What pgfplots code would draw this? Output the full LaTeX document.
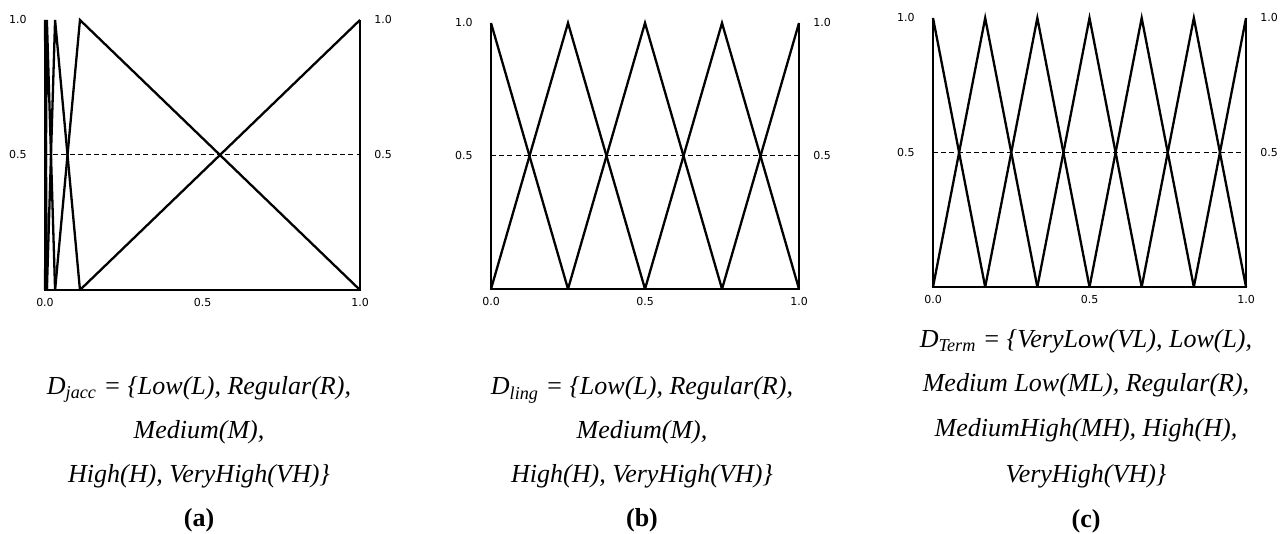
\documentclass[border=0pt]{standalone}
\usepackage{fontspec}
\setmainfont{Liberation Serif}
\newfontfamily\tickfont{DejaVu Sans}
\usepackage{pgfplots}
\pgfplotsset{compat=1.18}

\pgfplotsset{
  mf/.style={
    scale only axis,
    xmin=0, xmax=1, ymin=0, ymax=1,
    axis line style={draw=none},
    tick style={draw=none},
    xtick={0,0.5,1}, xticklabels={0.0,0.5,1.0},
    ytick={0.5,1}, yticklabels={0.5,1.0},
    tick label style={font=\tickfont\fontsize{5.5}{6.5}\selectfont},
    yticklabel style={anchor=east, inner sep=0pt, xshift=-9pt},
    xticklabel style={anchor=center, inner sep=0pt, yshift=-6.5pt},
    clip=false,
  },
  tri/.style={black, line width=1.15pt, mark=none},
  frame/.style={black, line width=0.75pt, mark=none},
  half/.style={black, line width=0.5pt, dash pattern=on 2.5pt off 1.6pt, mark=none},
}
\newcommand\rlab[1]{\node[anchor=west, inner sep=0pt, font=\tickfont\fontsize{5.5}{6.5}\selectfont] at (axis cs:1,#1) [xshift=7pt] {\ifdim#1pt=1pt 1.0\else 0.5\fi};}

\begin{document}
\begin{tikzpicture}
\path[use as bounding box] (0,0) rectangle (644pt,267pt);

% (a) D_jacc
\begin{axis}[mf, width=157.5pt, height=135pt, at={(22.5pt,122pt)}, anchor=south west]
\addplot[frame] coordinates {(0,1)(0,0)(1,0)(1,1)};
\addplot[half] coordinates {(0,0.5)(1,0.5)};
\addplot[tri] coordinates {(0,1)(0.006,0)};
\addplot[tri] coordinates {(0,0)(0.006,1)(0.032,0)};
\addplot[tri] coordinates {(0.006,0)(0.032,1)(0.111,0)};
\addplot[tri] coordinates {(0.032,0)(0.111,1)(1,0)};
\addplot[tri] coordinates {(0.111,0)(1,1)};
\rlab{1}\rlab{0.5}
\end{axis}

% (b) D_ling
\begin{axis}[mf, width=154pt, height=133pt, at={(245.5pt,122.5pt)}, anchor=south west]
\addplot[frame] coordinates {(0,1)(0,0)(1,0)(1,1)};
\addplot[half] coordinates {(0,0.5)(1,0.5)};
\addplot[tri] coordinates {(0,1)(0.25,0)};
\addplot[tri] coordinates {(0,0)(0.25,1)(0.5,0)};
\addplot[tri] coordinates {(0.25,0)(0.5,1)(0.75,0)};
\addplot[tri] coordinates {(0.5,0)(0.75,1)(1,0)};
\addplot[tri] coordinates {(0.75,0)(1,1)};
\rlab{1}\rlab{0.5}
\end{axis}

% (c) D_Term
\begin{axis}[mf, width=156.5pt, height=134.5pt, at={(466.5pt,123.5pt)}, anchor=south west]
\addplot[frame] coordinates {(0,1)(0,0)(1,0)(1,1)};
\addplot[half] coordinates {(0,0.5)(1,0.5)};
\addplot[tri] coordinates {(0,1)(0.1667,0)};
\addplot[tri] coordinates {(0,0)(0.1667,1)(0.3333,0)};
\addplot[tri] coordinates {(0.1667,0)(0.3333,1)(0.5,0)};
\addplot[tri] coordinates {(0.3333,0)(0.5,1)(0.6667,0)};
\addplot[tri] coordinates {(0.5,0)(0.6667,1)(0.8333,0)};
\addplot[tri] coordinates {(0.6667,0)(0.8333,1)(1,0)};
\addplot[tri] coordinates {(0.8333,0)(1,1)};
\rlab{1}\rlab{0.5}
\end{axis}

% captions
\begin{scope}[every node/.style={anchor=base, inner sep=0pt, font=\fontsize{13}{15}\selectfont\itshape}]
\node at (99.5pt,69.5pt) {D\textsubscript{jacc} = \{Low(L), Regular(R),};
\node at (99.5pt,47.5pt) {Medium(M),};
\node at (99.5pt,25.5pt) {High(H), VeryHigh(VH)\}};
\node at (99.5pt,3.5pt) {\upshape\bfseries(a)};

\node at (321pt,69.5pt) {D\textsubscript{ling} = \{Low(L), Regular(R),};
\node at (321pt,47.5pt) {Medium(M),};
\node at (321pt,25.5pt) {High(H), VeryHigh(VH)\}};
\node at (321pt,3.5pt) {\upshape\bfseries(b)};

\node at (543pt,93pt) {D\textsubscript{Term} = \{VeryLow(VL), Low(L),};
\node at (543pt,71pt) {Medium Low(ML), Regular(R),};
\node at (543pt,48.5pt) {MediumHigh(MH), High(H),};
\node at (543pt,25.5pt) {VeryHigh(VH)\}};
\node at (543pt,3pt) {\upshape\bfseries(c)};
\end{scope}
\end{tikzpicture}
\end{document}
